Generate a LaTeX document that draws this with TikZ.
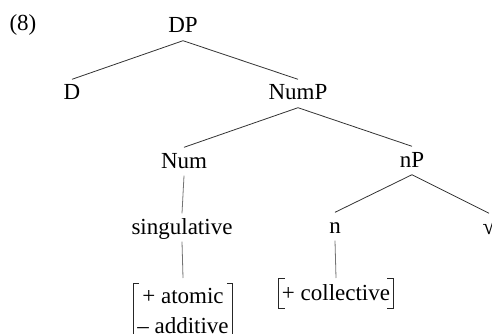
\documentclass[tikz,border=0pt]{standalone}
\usepackage{fontspec}
\setmainfont{Liberation Serif}
\begin{document}
\begin{tikzpicture}[x=1pt,y=-1pt,
  lbl/.style={font=\fontsize{23}{29}\selectfont, inner sep=3.5pt,
    text height=17pt, text depth=4pt, anchor=base},
  feat/.style={font=\fontsize{23}{29}\selectfont, inner xsep=4pt, inner ysep=0pt},
  branch/.style={line width=0.8pt, draw=black!80},
  stem/.style={line width=0.8pt, draw=black!55},
  brk/.style={line width=0.8pt, draw=black!85}]
\useasboundingbox (0,0) rectangle (492,334);
\clip (0,0) rectangle (492,334);

% example number
\node[lbl] (ex) at (23,31) {(8)};

% tree nodes
\node[lbl] (dp)   at (183,33)  {DP};
\node[lbl] (d)    at (72,100)  {D};
\node[lbl] (nump) at (298,100) {NumP};
\node[lbl] (num)  at (184,168) {Num};
\node[lbl] (np)   at (412,167) {nP};
\node[lbl] (sing) at (182,234) {singulative};
\node[lbl] (n)    at (335,233) {n};
\node[lbl] (root) at (489,234) {√};

% feature bundles
\node[feat, anchor=north] (f1) at (183,283)
  {\begin{tabular}{@{}c@{}}+ atomic\\[1pt]– additive\end{tabular}};
\node[feat, anchor=north, inner xsep=3pt, inner ysep=3pt,
  text height=19pt, text depth=5pt] (f2) at (336,278)
  {+ collective};

% brackets around the feature bundles
\foreach \f in {f1,f2}{
  \draw[brk] ([xshift=6pt]\f.north west) -- (\f.north west) -- (\f.south west) -- ([xshift=6pt]\f.south west);
  \draw[brk] ([xshift=-6pt]\f.north east) -- (\f.north east) -- (\f.south east) -- ([xshift=-6pt]\f.south east);
}

% branches
\draw[branch] (dp.south) -- (d.north);
\draw[branch] (dp.south) -- (nump.north);
\draw[branch] (nump.south) -- (num.north);
\draw[branch] (nump.south) -- (np.north);
\draw[branch] (np.south) -- (n.north);
\draw[branch] (np.south) -- (root.north);
\draw[stem] (num.south) -- (sing.north);
\draw[stem] (sing.south) -- ([yshift=5pt]f1.north);
\draw[stem] (n.south) -- (f2.north);
\end{tikzpicture}
\end{document}
